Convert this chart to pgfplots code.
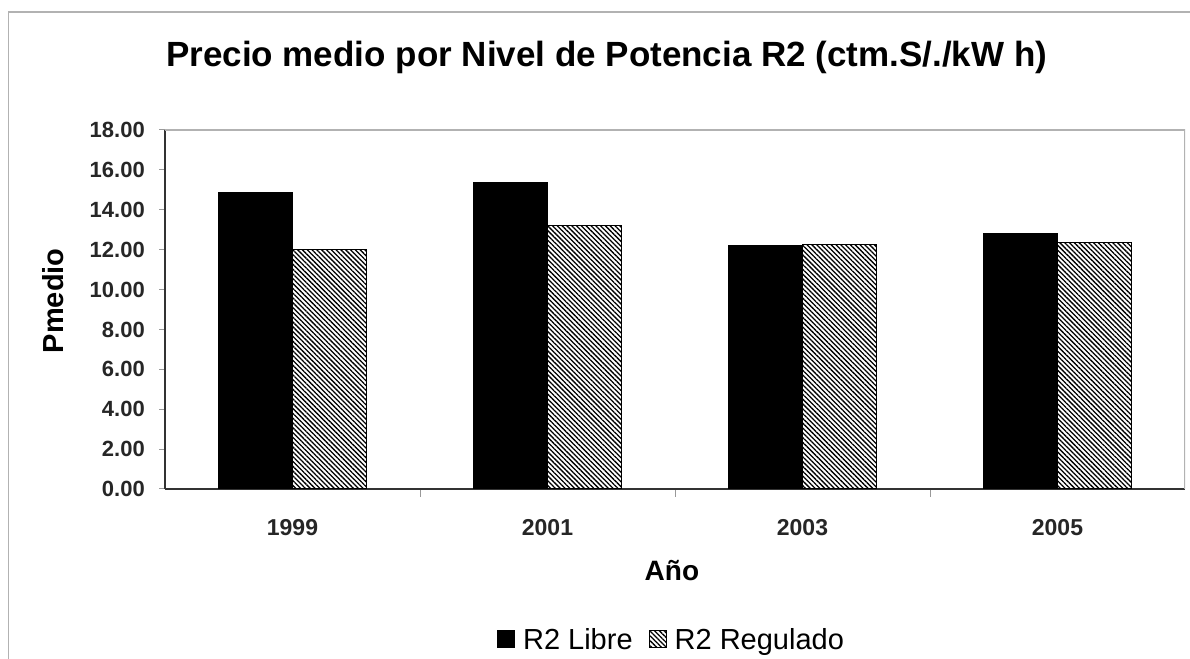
\documentclass[border=0pt]{standalone}
\usepackage{pgfplots}
\pgfplotsset{compat=1.18}
\usepackage{fontspec}
\setmainfont{Liberation Sans}
\usetikzlibrary{patterns.meta}

\begin{document}
\begin{tikzpicture}[x=1bp,y=1bp]
\useasboundingbox (0,0) rectangle (1190,659);
\draw[gray!60, line width=1.2bp] (8.5,0) -- (8.5,647) -- (1190,647);
\begin{axis}[
  at={(165bp,170bp)}, anchor=south west,
  scale only axis, width=1020bp, height=359bp,
  /pgf/number format/assume math mode=true,
  ymin=0, ymax=18, ytick={0,2,...,18},
  xmin=-0.5, xmax=3.5,
  xtick={0,1,2,3}, xticklabels={1999,2001,2003,2005},
  minor xtick={0.5,1.5,2.5},
  major x tick style={draw=none},
  minor tick length=8bp, major tick length=6bp,
  tick align=outside,
  axis x line*=bottom, axis y line*=left,
  axis line style={-, line width=1.2bp, draw=black!80},
  tick style={line width=1bp, draw=gray!80},
  ybar=0pt, bar width=74bp,
  yticklabel style={/pgf/number format/.cd, fixed, fixed zerofill, precision=2, /tikz/.cd,
     font=\bfseries\fontsize{22bp}{24bp}\selectfont, text=black!85, inner sep=0pt, anchor=east, xshift=-14bp},
  xticklabel style={font=\bfseries\fontsize{23bp}{26bp}\selectfont, text=black!85, inner sep=0pt, anchor=base, yshift=-41bp},
  title={Precio medio por Nivel de Potencia R2 (ctm.S/./kW h)},
  title style={font=\bfseries\fontsize{35bp}{38bp}\selectfont, at={(axis description cs:0.433,1)}, anchor=base, yshift=58bp, inner sep=0pt},
  ylabel={Pmedio},
  ylabel style={font=\bfseries\fontsize{29bp}{32bp}\selectfont, at={(axis description cs:-0.11,0.524)}, anchor=center, inner sep=0pt},
  xlabel={Año},
  xlabel style={font=\bfseries\fontsize{28bp}{32bp}\selectfont, at={(axis description cs:0.497,0)}, anchor=base, yshift=-92bp, inner sep=0pt},
  legend columns=2,
  legend style={at={(axis description cs:0.4966,0)}, anchor=center, yshift=-151bp, draw=none, fill=none,
     font=\fontsize{29bp}{32bp}\selectfont,
     /tikz/every odd column/.append style={column sep=6bp},
     /tikz/every even column/.append style={column sep=14bp}},
  legend image code/.code={\draw[#1, line width=1bp] (0bp,-8bp) rectangle (17bp,9bp);},
]
\addplot[draw=black, fill=black, line width=1bp] coordinates {(0,14.85) (1,15.35) (2,12.2) (3,12.82)};
\addlegendentry{R2 Libre}
\addplot[draw=black, line width=1bp, pattern={Lines[angle=-45, distance=3.4bp, line width=1.3bp]}] coordinates {(0,12.0) (1,13.2) (2,12.24) (3,12.38)};
\addlegendentry{R2 Regulado}
\draw[gray!60, line width=1.2bp] (rel axis cs:0,1) -- (rel axis cs:1,1) -- (rel axis cs:1,0);
\end{axis}
\end{tikzpicture}
\end{document}
